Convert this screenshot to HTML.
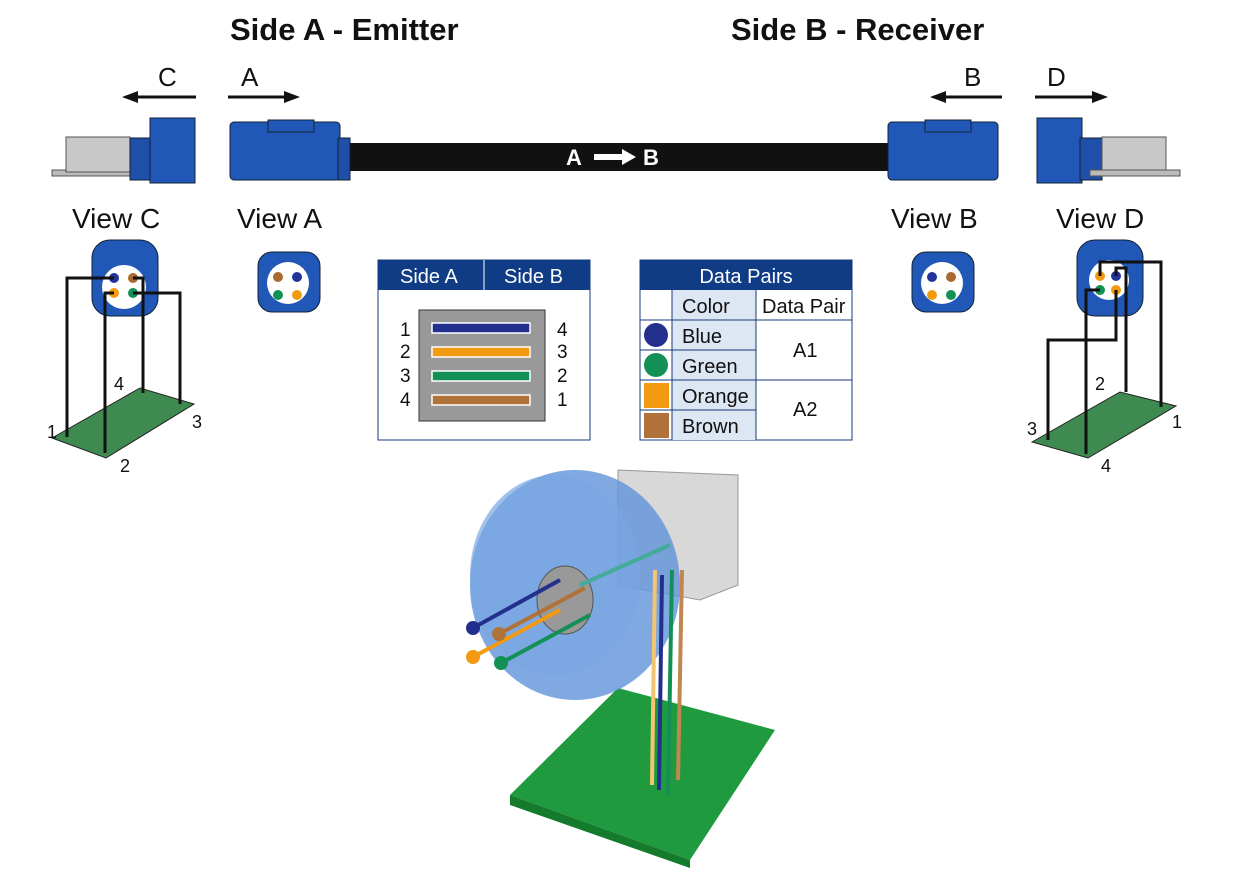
<!DOCTYPE html>
<html><head><meta charset="utf-8"><style>
html,body{margin:0;padding:0;background:#fff;}
svg{display:block;font-family:"Liberation Sans",Arial,sans-serif;}
</style></head><body>
<svg width="1239" height="869" viewBox="0 0 1239 869" xmlns="http://www.w3.org/2000/svg">
<rect width="1239" height="869" fill="#fff"/>
<text x="230" y="40" font-size="31" font-weight="bold" fill="#111">Side A - Emitter</text>
<text x="731" y="40" font-size="31" font-weight="bold" fill="#111">Side B - Receiver</text>
<g font-size="26" fill="#111">
<text x="158" y="86">C</text><text x="241" y="86">A</text>
<text x="964" y="86">B</text><text x="1047" y="86">D</text>
</g>
<g stroke="#111" stroke-width="3" fill="#111">
<line x1="134" y1="97" x2="196" y2="97"/><polygon points="122,97 138,91 138,103" stroke="none"/>
<line x1="228" y1="97" x2="288" y2="97"/><polygon points="300,97 284,91 284,103" stroke="none"/>
<line x1="942" y1="97" x2="1002" y2="97"/><polygon points="930,97 946,91 946,103" stroke="none"/>
<line x1="1035" y1="97" x2="1095" y2="97"/><polygon points="1108,97 1092,91 1092,103" stroke="none"/>
</g>
<rect x="340" y="143" width="550" height="28" fill="#111"/>
<text x="566" y="165" font-size="22" font-weight="bold" fill="#fff">A</text>
<polygon points="594,154 622,154 622,149 636,157 622,165 622,160 594,160" fill="#fff"/>
<text x="643" y="165" font-size="22" font-weight="bold" fill="#fff">B</text>
<rect x="52" y="170" width="90" height="6" fill="#bbb" stroke="#555"/>
<rect x="66" y="137" width="64" height="35" fill="#c8c8c8" stroke="#555"/>
<rect x="130" y="138" width="22" height="42" fill="#1f4fa8" stroke="#123"/>
<rect x="150" y="118" width="45" height="65" fill="#2158b8" stroke="#123"/>
<rect x="230" y="122" width="110" height="58" rx="4" fill="#2158b8" stroke="#123"/>
<rect x="268" y="120" width="46" height="12" fill="#2158b8" stroke="#123"/>
<rect x="338" y="138" width="12" height="42" fill="#1f4fa8" stroke="#123"/>
<rect x="888" y="122" width="110" height="58" rx="4" fill="#2158b8" stroke="#123"/>
<rect x="925" y="120" width="46" height="12" fill="#2158b8" stroke="#123"/>
<rect x="1037" y="118" width="45" height="65" fill="#2158b8" stroke="#123"/>
<rect x="1080" y="138" width="22" height="42" fill="#1f4fa8" stroke="#123"/>
<rect x="1102" y="137" width="64" height="35" fill="#c8c8c8" stroke="#555"/>
<rect x="1090" y="170" width="90" height="6" fill="#bbb" stroke="#555"/>
<g font-size="28" fill="#111">
<text x="72" y="228">View C</text><text x="237" y="228">View A</text>
<text x="891" y="228">View B</text><text x="1056" y="228">View D</text>
</g>
<g>
<rect x="258" y="252" width="62" height="60" rx="14" fill="#2158b8" stroke="#123"/>
<circle cx="288" cy="283" r="21" fill="#fff"/>
<circle cx="278" cy="277" r="5" fill="#a86a30"/><circle cx="297" cy="277" r="5" fill="#223399"/>
<circle cx="278" cy="295" r="5" fill="#139055"/><circle cx="297" cy="295" r="5" fill="#f29a12"/>
<rect x="912" y="252" width="62" height="60" rx="14" fill="#2158b8" stroke="#123"/>
<circle cx="942" cy="283" r="21" fill="#fff"/>
<circle cx="932" cy="277" r="5" fill="#223399"/><circle cx="951" cy="277" r="5" fill="#a86a30"/>
<circle cx="932" cy="295" r="5" fill="#f29a12"/><circle cx="951" cy="295" r="5" fill="#139055"/>
<rect x="92" y="240" width="66" height="76" rx="18" fill="#2158b8" stroke="#123"/>
<circle cx="124" cy="287" r="22" fill="#fff"/>
<circle cx="114" cy="278" r="5" fill="#223399"/><circle cx="133" cy="278" r="5" fill="#a86a30"/>
<circle cx="114" cy="293" r="5" fill="#f29a12"/><circle cx="133" cy="293" r="5" fill="#139055"/>
<rect x="1077" y="240" width="66" height="76" rx="18" fill="#2158b8" stroke="#123"/>
<circle cx="1109" cy="280" r="20" fill="#fff"/>
<circle cx="1100" cy="276" r="5" fill="#f29a12"/><circle cx="1116" cy="276" r="5" fill="#223399"/>
<circle cx="1100" cy="290" r="5" fill="#139055"/><circle cx="1116" cy="290" r="5" fill="#f29a12"/>
</g>
<polygon points="52,438 140,388 194,404 106,458" fill="#3e8a50" stroke="#222"/>
<g stroke="#111" stroke-width="3" fill="none">
<polyline points="114,278 67,278 67,437"/>
<polyline points="133,278 143,278 143,393"/>
<polyline points="114,293 105,293 105,453"/>
<polyline points="133,293 180,293 180,404"/>
</g>
<g font-size="18" fill="#111"><text x="47" y="438">1</text><text x="120" y="472">2</text><text x="192" y="428">3</text><text x="114" y="390">4</text></g>
<polygon points="1032,442 1120,392 1176,406 1088,458" fill="#3e8a50" stroke="#222"/>
<g stroke="#111" stroke-width="3" fill="none">
<polyline points="1100,276 1100,262 1161,262 1161,407"/>
<polyline points="1116,276 1116,268 1126,268 1126,392"/>
<polyline points="1100,290 1086,290 1086,454"/>
<polyline points="1116,290 1116,340 1048,340 1048,440"/>
</g>
<g font-size="18" fill="#111"><text x="1027" y="435">3</text><text x="1101" y="472">4</text><text x="1172" y="428">1</text><text x="1095" y="390">2</text></g>
<rect x="378" y="260" width="212" height="180" fill="#fff" stroke="#1a3a7a"/>
<rect x="378" y="260" width="212" height="30" fill="#0f3c84"/>
<line x1="484" y1="260" x2="484" y2="290" stroke="#fff"/>
<text x="400" y="283" font-size="20" fill="#fff">Side A</text>
<text x="504" y="283" font-size="20" fill="#fff">Side B</text>
<rect x="419" y="310" width="126" height="111" fill="#999" stroke="#333"/>
<g font-size="19" fill="#111"><text x="400" y="336">1</text><text x="400" y="358">2</text><text x="400" y="382">3</text><text x="400" y="406">4</text>
<text x="557" y="336">4</text><text x="557" y="358">3</text><text x="557" y="382">2</text><text x="557" y="406">1</text></g>
<g stroke="#fff" stroke-width="1.5">
<rect x="432" y="323" width="98" height="10" fill="#232f8c"/>
<rect x="432" y="347" width="98" height="10" fill="#f29a12"/>
<rect x="432" y="371" width="98" height="10" fill="#139055"/>
<rect x="432" y="395" width="98" height="10" fill="#b07238"/>
</g>
<rect x="640" y="260" width="212" height="180" fill="#fff" stroke="#1a3a7a"/>
<rect x="640" y="260" width="212" height="30" fill="#0f3c84"/>
<text x="746" y="283" font-size="20" fill="#fff" text-anchor="middle">Data Pairs</text>
<rect x="672" y="290" width="84" height="150" fill="#dde6f3"/>
<g stroke="#1a3a7a" stroke-width="1">
<line x1="672" y1="290" x2="672" y2="440"/><line x1="756" y1="290" x2="756" y2="440"/>
<line x1="640" y1="320" x2="852" y2="320"/><line x1="640" y1="380" x2="852" y2="380"/>
<line x1="640" y1="350" x2="756" y2="350"/><line x1="640" y1="410" x2="756" y2="410"/>
</g>
<g font-size="20" fill="#111">
<text x="682" y="313">Color</text><text x="762" y="313">Data Pair</text>
<text x="682" y="343">Blue</text><text x="682" y="373">Green</text>
<text x="682" y="403">Orange</text><text x="682" y="433">Brown</text>
<text x="793" y="357">A1</text><text x="793" y="416">A2</text>
</g>
<circle cx="656" cy="335" r="12" fill="#232f8c"/><circle cx="656" cy="365" r="12" fill="#139055"/>
<rect x="644" y="383" width="25" height="25" fill="#f29a12"/><rect x="644" y="413" width="25" height="25" fill="#b07238"/>
<polygon points="510,795 618,688 775,730 690,860" fill="#1f9a3e"/>
<polygon points="510,795 690,860 690,868 510,805" fill="#147a2c"/>
<polygon points="618,470 738,475 738,585 700,600 618,585" fill="#d8d8d8" stroke="#999"/>
<ellipse cx="575" cy="585" rx="105" ry="115" fill="#5f93d8" opacity="0.8"/>
<ellipse cx="555" cy="575" rx="85" ry="100" fill="#79a7e2" opacity="0.7"/>
<ellipse cx="565" cy="600" rx="28" ry="34" fill="#999" stroke="#555"/>
<g stroke-width="4">
<line x1="473" y1="628" x2="560" y2="580" stroke="#232f8c"/>
<line x1="499" y1="634" x2="585" y2="588" stroke="#b07238"/>
<line x1="473" y1="657" x2="560" y2="610" stroke="#f29a12"/>
<line x1="501" y1="663" x2="590" y2="615" stroke="#139055"/>
<line x1="580" y1="585" x2="670" y2="545" stroke="#4a9" />
<line x1="655" y1="570" x2="652" y2="785" stroke="#f5c470"/>
<line x1="662" y1="575" x2="659" y2="790" stroke="#232f8c"/>
<line x1="672" y1="570" x2="668" y2="795" stroke="#139055"/>
<line x1="682" y1="570" x2="678" y2="780" stroke="#c08850"/>
</g>
<circle cx="473" cy="628" r="7" fill="#232f8c"/><circle cx="499" cy="634" r="7" fill="#b07238"/>
<circle cx="473" cy="657" r="7" fill="#f29a12"/><circle cx="501" cy="663" r="7" fill="#139055"/>
</svg>
</body></html>
